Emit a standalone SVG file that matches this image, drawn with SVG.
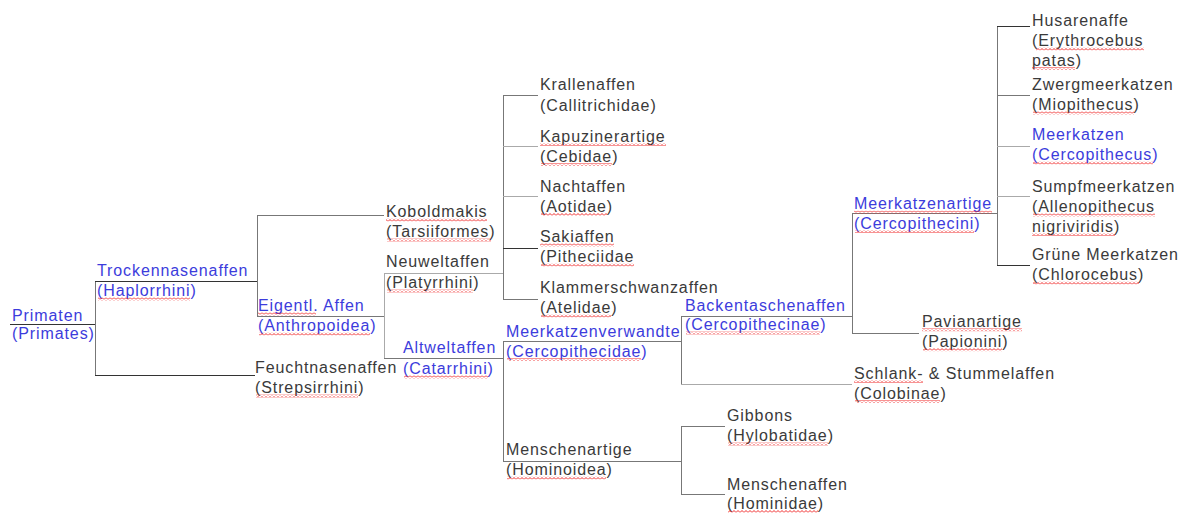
<svg xmlns="http://www.w3.org/2000/svg" width="1188" height="513" viewBox="0 0 1188 513">
<defs>
<pattern id="wave" width="4" height="3" patternUnits="userSpaceOnUse">
<polyline points="0,2.5 2,0.5 4,2.5" fill="none" stroke="#f02828" stroke-width="1"/>
</pattern>
</defs>
<style>
text{font-family:"Liberation Sans",Arial,sans-serif;font-size:16px;letter-spacing:0.9px;fill:#3a3a3a}
text.b{fill:#3c3cdc}
.sq{fill:url(#wave)}
#connectors line{stroke:#777;stroke-width:1;fill:none}
#connectors line.d{stroke:#333}
#connectors line.l{stroke:#aaa}
</style>
<rect width="1188" height="513" fill="#fff"/>
<g id="connectors">
<line x1="10" y1="324.5" x2="95.5" y2="324.5" class="d"/>
<line x1="95.5" y1="281.5" x2="95.5" y2="375.5"/>
<line x1="95" y1="281.5" x2="257.5" y2="281.5" class="d"/>
<line x1="95" y1="375.5" x2="255" y2="375.5" class="d"/>
<line x1="257.5" y1="215.5" x2="257.5" y2="316.5"/>
<line x1="257" y1="215.5" x2="384" y2="215.5"/>
<line x1="257" y1="316.5" x2="384.5" y2="316.5"/>
<line x1="384.5" y1="273.5" x2="384.5" y2="358.5" class="l"/>
<line x1="384" y1="273.5" x2="503.5" y2="273.5" class="l"/>
<line x1="384" y1="358.5" x2="503.5" y2="358.5"/>
<line x1="503.5" y1="95.5" x2="503.5" y2="299.5"/>
<line x1="503" y1="95.5" x2="538" y2="95.5"/>
<line x1="503" y1="146.5" x2="538" y2="146.5" class="l"/>
<line x1="503" y1="196.5" x2="538" y2="196.5" class="l"/>
<line x1="503" y1="248.5" x2="538" y2="248.5" class="d"/>
<line x1="503" y1="299.5" x2="538" y2="299.5"/>
<line x1="503.5" y1="341.5" x2="503.5" y2="461.5"/>
<line x1="503" y1="341.5" x2="682" y2="341.5"/>
<line x1="503" y1="461.5" x2="682" y2="461.5"/>
<line x1="681.5" y1="316.5" x2="681.5" y2="384.5"/>
<line x1="681" y1="316.5" x2="852.5" y2="316.5"/>
<line x1="681" y1="384.5" x2="852" y2="384.5" class="l"/>
<line x1="681.5" y1="426.5" x2="681.5" y2="494.5"/>
<line x1="681" y1="426.5" x2="725" y2="426.5"/>
<line x1="681" y1="494.5" x2="725" y2="494.5"/>
<line x1="852.5" y1="213.5" x2="852.5" y2="333.5"/>
<line x1="852" y1="213.5" x2="997" y2="213.5"/>
<line x1="852" y1="333.5" x2="919" y2="333.5"/>
<line x1="997.5" y1="26.5" x2="997.5" y2="265.5"/>
<line x1="997" y1="26.5" x2="1030" y2="26.5" class="d"/>
<line x1="997" y1="95.5" x2="1030" y2="95.5"/>
<line x1="997" y1="146.5" x2="1030" y2="146.5" class="l"/>
<line x1="997" y1="196.5" x2="1030" y2="196.5" class="l"/>
<line x1="997" y1="265.5" x2="1030" y2="265.5" class="d"/>
</g>
<g id="primaten"><text x="12" y="320.5" class="b">Primaten</text><text x="12" y="339" class="b">(Primates)</text></g>
<g id="trockennasenaffen"><text x="97" y="276" class="b">Trockennasenaffen</text><text x="97" y="296" class="b">(Haplorrhini)</text><rect class="sq" x="98" y="297.5" width="92" height="3"/></g>
<g id="feuchtnasenaffen"><text x="255" y="373" >Feuchtnasenaffen</text><text x="255" y="393">(Strepsirrhini)</text><rect class="sq" x="256" y="394.5" width="102" height="3"/></g>
<g id="koboldmakis"><text x="386" y="217">Koboldmakis</text><text x="386" y="237">(Tarsiiformes)</text><rect class="sq" x="386" y="218.5" width="101" height="3"/><rect class="sq" x="387" y="238.5" width="104" height="3"/></g>
<g id="eigentl-affen"><text x="258" y="311" class="b">Eigentl. Affen</text><text x="258" y="331" class="b">(Anthropoidea)</text><rect class="sq" x="258" y="312.5" width="58" height="3"/><rect class="sq" x="259" y="332.5" width="111" height="3"/></g>
<g id="neuweltaffen"><text x="386" y="267">Neuweltaffen</text><text x="386" y="288">(Platyrrhini)</text><rect class="sq" x="387" y="289.5" width="86" height="3"/></g>
<g id="altweltaffen"><text x="403" y="353" class="b">Altweltaffen</text><text x="403" y="374" class="b">(Catarrhini)</text><rect class="sq" x="404" y="375.5" width="84" height="3"/></g>
<g id="krallenaffen"><text x="540" y="90">Krallenaffen</text><text x="540" y="111">(Callitrichidae)</text></g>
<g id="kapuzinerartige"><text x="540" y="141.5">Kapuzinerartige</text><text x="540" y="161.5">(Cebidae)</text><rect class="sq" x="540" y="143" width="126" height="3"/><rect class="sq" x="541" y="163" width="71" height="3"/></g>
<g id="nachtaffen"><text x="540" y="191.5">Nachtaffen</text><text x="540" y="211.5">(Aotidae)</text><rect class="sq" x="541" y="213" width="66" height="3"/></g>
<g id="sakiaffen"><text x="540" y="242">Sakiaffen</text><text x="540" y="262">(Pitheciidae</text><rect class="sq" x="540" y="243.5" width="74" height="3"/><rect class="sq" x="541" y="263.5" width="93" height="3"/></g>
<g id="klammerschwanzaffen"><text x="540" y="293">Klammerschwanzaffen</text><text x="540" y="313">(Atelidae)</text><rect class="sq" x="541" y="314.5" width="70" height="3"/></g>
<g id="meerkatzenverwandte"><text x="506" y="336.5" class="b">Meerkatzenverwandte</text><text x="506" y="356.5" class="b">(Cercopithecidae)</text><rect class="sq" x="507" y="358" width="134" height="3"/></g>
<g id="menschenartige"><text x="506" y="455">Menschenartige</text><text x="506" y="475">(Hominoidea)</text><rect class="sq" x="507" y="476.5" width="99" height="3"/></g>
<g id="backentaschenaffen"><text x="685" y="310.5" class="b">Backentaschenaffen</text><text x="685" y="330" class="b">(Cercopithecinae)</text><rect class="sq" x="686" y="331.5" width="134" height="3"/></g>
<g id="schlank-stummelaffen"><text x="854" y="378.5">Schlank- &amp; Stummelaffen</text><text x="854" y="398.5">(Colobinae)</text><rect class="sq" x="854" y="380" width="69" height="3"/><rect class="sq" x="855" y="400" width="85" height="3"/></g>
<g id="gibbons"><text x="727" y="420.5">Gibbons</text><text x="727" y="441">(Hylobatidae)</text><rect class="sq" x="728" y="442.5" width="100" height="3"/></g>
<g id="menschenaffen"><text x="727" y="489.5">Menschenaffen</text><text x="727" y="509">(Hominidae)</text><rect class="sq" x="728" y="510" width="90" height="3"/></g>
<g id="meerkatzenartige"><text x="854" y="209.3" class="b">Meerkatzenartige</text><text x="854" y="228.5" class="b">(Cercopithecini)</text><rect class="sq" x="854" y="210.8" width="138" height="3"/><rect class="sq" x="855" y="230" width="119" height="3"/></g>
<g id="pavianartige"><text x="922" y="326.7">Pavianartige</text><text x="922" y="346.7">(Papionini)</text><rect class="sq" x="922" y="328.2" width="100" height="3"/><rect class="sq" x="923" y="348.2" width="79" height="3"/></g>
<g id="husarenaffe"><text x="1032" y="26">Husarenaffe</text><text x="1032" y="46">(Erythrocebus</text><text x="1032" y="65.5">patas)</text><rect class="sq" x="1036" y="47.5" width="108" height="3"/><rect class="sq" x="1032" y="67" width="43" height="3"/></g>
<g id="zwergmeerkatzen"><text x="1032" y="89.5">Zwergmeerkatzen</text><text x="1032" y="110">(Miopithecus)</text><rect class="sq" x="1033" y="111.5" width="101" height="3"/></g>
<g id="meerkatzen"><text x="1032" y="140" class="b">Meerkatzen</text><text x="1032" y="160" class="b">(Cercopithecus)</text><rect class="sq" x="1033" y="161.5" width="120" height="3"/></g>
<g id="sumpfmeerkatzen"><text x="1032" y="191.5">Sumpfmeerkatzen</text><text x="1032" y="212">(Allenopithecus</text><text x="1032" y="231.5">nigriviridis)</text><rect class="sq" x="1033" y="213.5" width="122" height="3"/><rect class="sq" x="1032" y="233" width="83" height="3"/></g>
<g id="gruene-meerkatzen"><text x="1032" y="259.5">Grüne Meerkatzen</text><text x="1032" y="280">(Chlorocebus)</text><rect class="sq" x="1033" y="281.5" width="106" height="3"/></g>
</svg>
